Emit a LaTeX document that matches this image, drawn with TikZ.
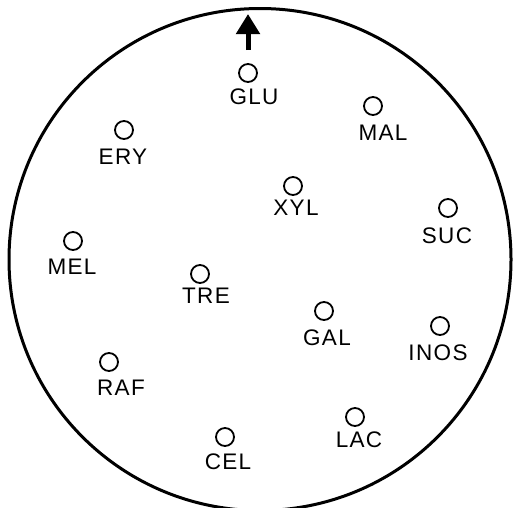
\documentclass[tikz,border=0pt]{standalone}
\usepackage{fontspec}
\setmainfont[LetterSpace=6]{Liberation Sans}
\usetikzlibrary{arrows.meta}
\tikzset{
  dot/.style={circle, draw, line width=1.8pt, minimum size=18pt, inner sep=0pt},
  lab/.style={inner sep=0pt, font=\fontsize{22.5}{22.5}\selectfont},
  rim/.style={line width=3pt},
  pointer/.style={line width=5pt, -{Triangle[length=20pt,width=23pt]}}
}
\begin{document}
\begin{tikzpicture}[x=1pt,y=-1pt]
\useasboundingbox (0,0) rectangle (513,507);
\draw[rim] (260,259.5) circle[radius=251];
\coordinate (abase) at (248,50);
\coordinate (atip) at (248,14);
\draw[pointer] (abase) -- (atip);
% sugars
\node[dot] (glu) at (248,73) {};   \node[lab] (glut) at (254,97) {GLU};
\node[dot] (mal) at (373,106) {};  \node[lab] (malt) at (383,133) {MAL};
\node[dot] (ery) at (124,130) {};  \node[lab] (eryt) at (123,157) {ERY};
\node[dot] (xyl) at (293,186) {};  \node[lab] (xylt) at (296,208) {XYL};
\node[dot] (suc) at (448,208) {};  \node[lab] (suct) at (447,236) {SUC};
\node[dot] (mel) at (73,241) {};   \node[lab] (melt) at (72,267) {MEL};
\node[dot] (tre) at (200,274) {};  \node[lab] (tret) at (206,296) {TRE};
\node[dot] (gal) at (324,311) {};  \node[lab] (galt) at (327,338) {GAL};
\node[dot] (inos) at (440,326) {}; \node[lab] (inost) at (438,353) {INOS};
\node[dot] (raf) at (109,362) {};  \node[lab] (raft) at (121,388) {RAF};
\node[dot] (lac) at (355,417) {};  \node[lab] (lact) at (359,440) {LAC};
\node[dot] (cel) at (225,437) {};  \node[lab] (celt) at (228,462) {CEL};
\end{tikzpicture}
\end{document}
